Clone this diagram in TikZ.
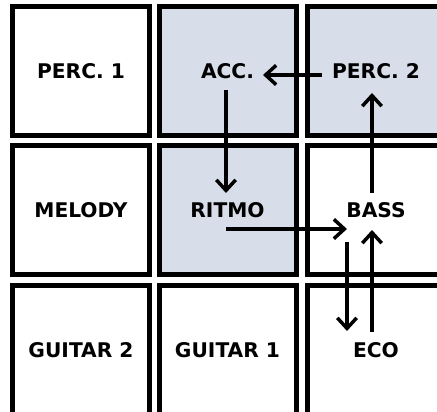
\documentclass[tikz,border=0pt]{standalone}
\usepackage{fontspec}
\setmainfont{DejaVu Sans}
\usetikzlibrary{arrows.meta,calc}

\definecolor{grisbleu}{RGB}{216,222,233}

\tikzset{
  case/.style={draw=black, line width=5*0.02cm, minimum width=137*0.02cm,
    minimum height=129*0.02cm, inner sep=0pt, outer sep=0pt, fill=white,
    font=\fontsize{11.5}{13}\selectfont\bfseries},
  active/.style={case, fill=grisbleu},
  fleche/.style={line width=3.5*0.02cm, -{Straight Barb[length=6pt,width=11pt]}}
}

\begin{document}
\begin{tikzpicture}[x=0.02cm, y=-0.02cm]
% cadre : 437 x 412 px
\useasboundingbox (0,0) rectangle (437,412);
\clip (0,0) rectangle (437,412);

% la grille 3 x 3
\node[case]   (perc1)  at (81,71.5)    {PERC. 1};
\node[active] (acc)    at (227.5,71.5) {ACC.};
\node[active] (perc2)  at (376,71.5)   {PERC. 2};
\node[case]   (melody) at (81,210)     {MELODY};
\node[active] (ritmo)  at (227.5,210)  {RITMO};
\node[case]   (bass)   at (376,210)    {BASS};
\node[case]   (guitar2) at (81,350)    {GUITAR 2};
\node[case]   (guitar1) at (227.5,350) {GUITAR 1};
\node[case]   (eco)    at (376,350)    {ECO};

% les fleches
\draw[fleche] ($(perc2)+(-54,3.5)$) -- ($(acc)+(35.5,3.5)$);
\draw[fleche] ($(acc)+(-1.5,18.5)$) -- ($(ritmo)+(-1.5,-17)$);
\draw[fleche] ($(bass)+(-4,-17)$) -- ($(perc2)+(-4,21.5)$);
\draw[fleche] ($(ritmo)+(-1.5,19)$) -- ($(bass)+(-29,19)$);
\draw[fleche] ($(bass)+(-29,32)$) -- ($(eco)+(-29,-19)$);
\draw[fleche] ($(eco)+(-4,-18)$) -- ($(bass)+(-4,20)$);
\end{tikzpicture}
\end{document}
